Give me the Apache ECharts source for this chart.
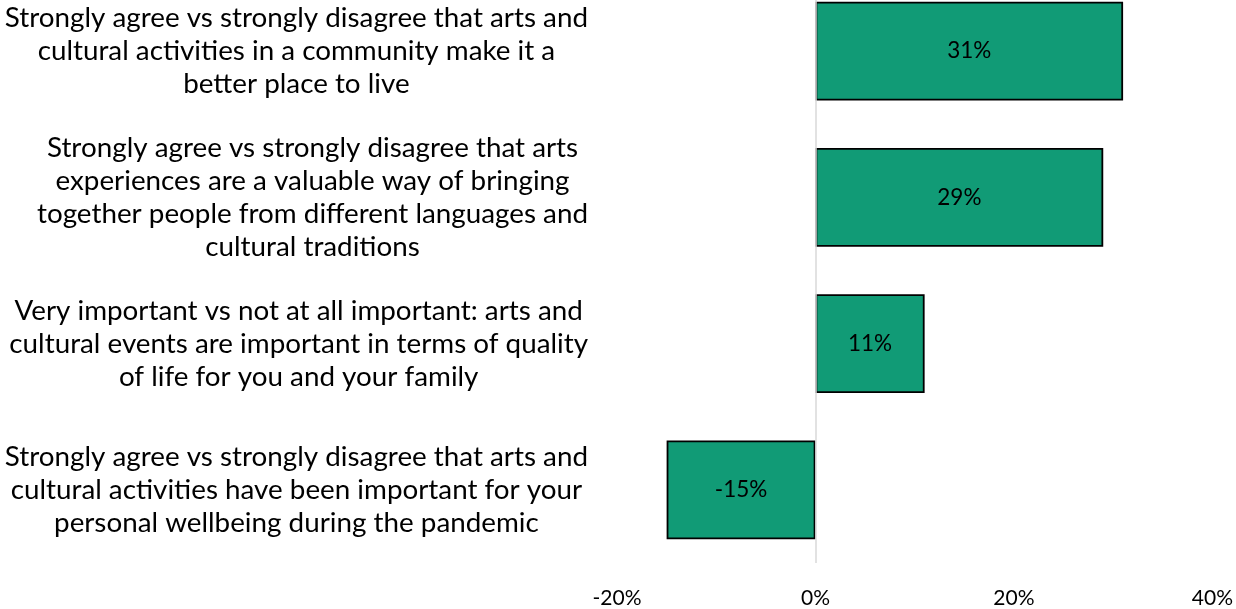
<!DOCTYPE html>
<html>
<head>
<meta charset="utf-8">
<script src="https://cdn.jsdelivr.net/npm/echarts@6/dist/echarts.min.js"></script>
<style>
  html, body { margin: 0; padding: 0; background: #fff; overflow: hidden; }
  /* the plot starts a little above the visible page edge */
  #chart { width: 1236px; height: 631px; margin-top: -22px; }
</style>
</head>
<body>
<div id="chart"></div>
<script>
// Survey statements (top to bottom) and net difference in percentage points
const categories = [
  'Strongly agree vs strongly disagree that arts and\ncultural activities in a community make it a\nbetter place to live',
  'Strongly agree vs strongly disagree that arts\nexperiences are a valuable way of bringing\ntogether people from different languages and\ncultural traditions',
  'Very important vs not at all important: arts and\ncultural events are important in terms of quality\nof life for you and your family',
  'Strongly agree vs strongly disagree that arts and\ncultural activities have been important for your\npersonal wellbeing during the pandemic'
];
const netValues = [31, 29, 11, -15];
const axisMin = -20;
const axisMax = 40;
const axisStep = 20;

const FONT = 'Lato, "Open Sans", sans-serif';
const chart = echarts.init(document.getElementById('chart'));

chart.setOption({
  backgroundColor: '#ffffff',
  animation: false,
  grid: { left: 617, right: 20, top: 0, bottom: 40, containLabel: false },
  xAxis: {
    type: 'value',
    min: axisMin,
    max: axisMax,
    interval: axisStep,
    axisLine: { show: false },
    axisTick: { show: false },
    splitLine: { show: false },
    axisLabel: {
      formatter: '{value}%',
      color: '#000',
      fontFamily: FONT,
      fontSize: 21,
      margin: 25
    }
  },
  yAxis: {
    type: 'category',
    inverse: true,
    data: categories,
    axisLine: { show: false },
    axisTick: { show: false },
    axisLabel: {
      margin: 29,
      align: 'right',
      fontFamily: FONT,
      fontSize: 27.8,
      lineHeight: 33,
      color: '#000',
      // each line is centred inside its label block
      formatter: function (v) {
        return v.split('\n').map(function (s) { return '{c|' + s + '}'; }).join('\n');
      },
      rich: {
        c: { align: 'center', fontFamily: FONT, fontSize: 27.8, lineHeight: 33, color: '#000' }
      }
    }
  },
  series: [{
    type: 'bar',
    data: netValues,
    barCategoryGap: '32.5%',
    itemStyle: { color: '#119B76', borderColor: '#000', borderWidth: 1.8 },
    label: {
      show: true,
      position: 'inside',
      formatter: '{c}%',
      color: '#000',
      fontFamily: FONT,
      fontSize: 22.5
    },
    markLine: {
      silent: true,
      symbol: 'none',
      label: { show: false },
      lineStyle: { color: '#d9d9d9', type: 'solid', width: 1.5 },
      data: [{ xAxis: 0 }]
    },
    z: 3
  }]
});
</script>
</body>
</html>
